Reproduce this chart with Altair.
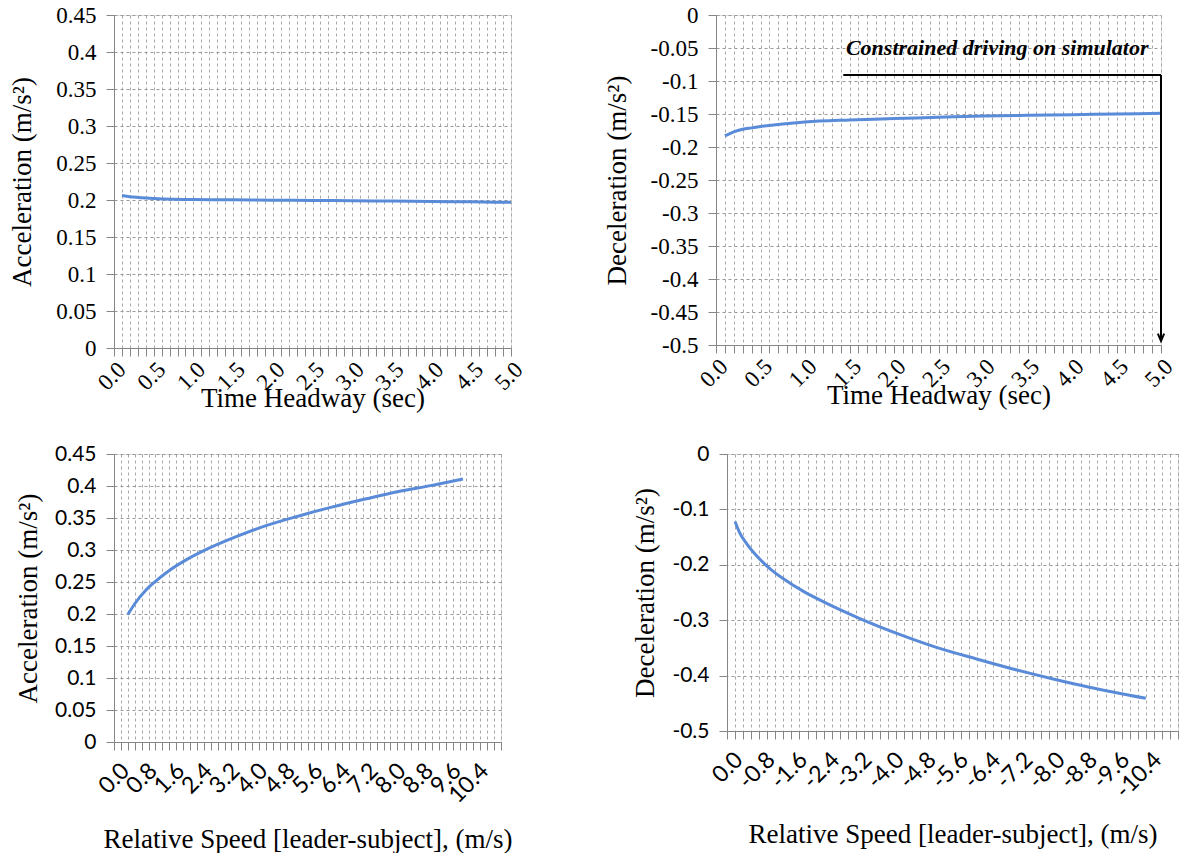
import altair as alt
import pandas as pd

SERIF = "Liberation Serif"
SANS = "Lato"
BLUE = "#5a8bd8"
AXC = "#868686"
GRIDC = "#a8a8a8"

# ---------------- data ----------------
# (a) acceleration vs time headway
th_acc_x = [0.1, 0.2, 0.3, 0.5, 0.75, 1.0, 1.5, 2.0, 2.5, 3.0, 3.5, 4.0, 4.5, 5.0]
th_acc_y = [0.206, 0.2045, 0.2035, 0.202, 0.201, 0.2007, 0.2002, 0.1998, 0.1994, 0.199, 0.1985, 0.198, 0.1975, 0.1968]
# (b) deceleration vs time headway
th_dec_x = [0.1, 0.15, 0.2, 0.3, 0.4, 0.5, 0.75, 1.0, 1.5, 2.0, 2.5, 3.0, 3.5, 4.0, 4.5, 5.0]
th_dec_y = [-0.183, -0.180, -0.177, -0.173, -0.171, -0.169, -0.165, -0.162, -0.159, -0.157, -0.155, -0.153, -0.152, -0.151, -0.150, -0.149]
# (c) acceleration vs relative speed
rs_acc_x = [0.3, 0.5, 0.8, 1.1, 1.5, 2.0, 2.5, 3.4, 4.3, 5.3, 6.2, 7.2, 8.1, 9.1, 10.0]
rs_acc_y = [0.199, 0.216, 0.236, 0.251, 0.268, 0.285, 0.299, 0.320, 0.338, 0.354, 0.367, 0.380, 0.391, 0.401, 0.411]
# (d) deceleration vs relative speed
rs_dec_x = [-0.1, -0.2, -0.4, -0.6, -0.8, -1.0, -1.3, -1.8, -2.3, -3.2, -4.2, -5.1, -6.1, -7.0, -8.0, -8.9, -10.3]
rs_dec_y = [-0.122, -0.140, -0.163, -0.181, -0.196, -0.209, -0.225, -0.248, -0.267, -0.297, -0.326, -0.349, -0.370, -0.388, -0.406, -0.421, -0.441]

# annotation (b)
ann_text = ["Constrained driving on simulator"]
ann_text_x = [4.86]
ann_text_y = [-0.068]
ann_seg_x = [1.43, 5.0]
ann_seg_x2 = [5.0, 5.0]
ann_seg_y = [-0.091, -0.091]
ann_seg_y2 = [-0.091, -0.494]
ann_head_x = [5.0]
ann_head_y = [-0.494]

# axis tick lists
th_ticks = [round(0.1 * i, 1) for i in range(51)]
acc_top_y = [0, 0.05, 0.1, 0.15, 0.2, 0.25, 0.3, 0.35, 0.4, 0.45]
dec_top_y = [0, -0.05, -0.1, -0.15, -0.2, -0.25, -0.3, -0.35, -0.4, -0.45, -0.5]
acc_bot_y = [0, 0.05, 0.1, 0.15, 0.2, 0.25, 0.3, 0.35, 0.4, 0.45]
dec_bot_y = [0, -0.1, -0.2, -0.3, -0.4, -0.5]
rs_grid_pos = [round(-0.1 + 0.2 * i, 1) for i in range(57)]
rs_lab_pos = [round(0.8 * i, 1) for i in range(14)]
rs_grid_neg = [-v for v in rs_grid_pos]
rs_lab_neg = [-v for v in rs_lab_pos]


def yaxis(vals, title, font, fsize, tpad):
    return alt.Axis(values=vals, labelExpr="toString(datum.value)", title=title,
                    labelFont=font, labelFontSize=fsize, labelColor="black",
                    titleFont=SERIF, titleFontSize=27, titleFontWeight="normal",
                    titleColor="black", titlePadding=tpad, grid=True, gridColor="#999999",
                    gridDash=[3, 3], domainColor=AXC, tickColor=AXC, tickSize=8,
                    labelPadding=10, labelOverlap=False, labelBound=False, labelFlush=False)


def th_xaxis():
    return alt.Axis(values=th_ticks,
                    labelExpr="(round(datum.value*10) % 5 == 0) ? format(datum.value, '.1f') : ''",
                    labelAngle=315, labelFont=SERIF, labelFontSize=23, labelColor="black",
                    labelOverlap=False, labelBound=False, labelFlush=False, labelPadding=2,
                    title="Time Headway (sec)", titleFont=SERIF, titleFontSize=27,
                    titleFontWeight="normal", titleColor="black", titlePadding=-9,
                    grid=True, gridColor=GRIDC, gridDash=[3, 3], domainColor=AXC,
                    tickColor=AXC, tickSize=8)


def top_panel(xs, ys, yvals, ydom, ytitle):
    df = pd.DataFrame({"x": xs, "y": ys})
    xs_ = alt.Scale(domain=[0, 5], nice=False, zero=False)
    ys_ = alt.Scale(domain=ydom, nice=False, zero=False)
    xax = th_xaxis()
    yax = yaxis(yvals, ytitle, SERIF, 23, 19)
    line = alt.Chart(df).mark_line(color=BLUE, strokeWidth=3, interpolate="monotone").encode(
        x=alt.X("x:Q", scale=xs_, axis=xax),
        y=alt.Y("y:Q", scale=ys_, axis=yax),
    )
    return line, xs_, ys_, xax, yax


def bottom_panel(xs, ys, yvals, ydom, ytitle, w, h, neg):
    df = pd.DataFrame({"x": xs, "y": ys})
    if neg:
        xdom = [-11.1, 0.1]
        grid_pos = rs_grid_neg
        lab_pos = rs_lab_neg
        lexpr = "datum.value == 0 ? '0.0' : '-' + format(abs(datum.value), '.1f')"
    else:
        xdom = [-0.1, 11.1]
        grid_pos = rs_grid_pos
        lab_pos = rs_lab_pos
        lexpr = "format(datum.value, '.1f')"
    xscale = alt.Scale(domain=xdom, nice=False, zero=False, reverse=neg)
    yscale = alt.Scale(domain=ydom, nice=False, zero=False)
    yax = yaxis(yvals, ytitle, SANS, 21, 12)
    grid_ax = alt.Axis(values=grid_pos, labels=False, title=None, orient="bottom",
                       grid=True, gridColor=GRIDC, gridDash=[3, 3], domainColor=AXC,
                       tickColor=AXC, tickSize=8)
    lab_ax = alt.Axis(values=lab_pos, labelExpr=lexpr, orient="bottom", grid=False,
                      ticks=False, domain=False, labelAngle=315, labelFont=SANS,
                      labelFontSize=23, labelColor="black", labelOverlap=False,
                      labelBound=False, labelFlush=False, labelPadding=17,
                      title="Relative Speed [leader-subject], (m/s)", titleFont=SERIF,
                      titleFontSize=27, titleFontWeight="normal", titleColor="black",
                      titlePadding=19)
    base = alt.Chart(df)
    l1 = base.mark_line(color=BLUE, strokeWidth=3, interpolate="monotone").encode(
        x=alt.X("x:Q", scale=xscale, axis=grid_ax),
        y=alt.Y("y:Q", scale=yscale, axis=yax))
    l2 = base.mark_line(color=BLUE, strokeWidth=3, strokeOpacity=0).encode(
        x=alt.X("x:Q", scale=xscale, axis=lab_ax),
        y=alt.Y("y:Q", scale=yscale, axis=yax))
    return alt.layer(l1, l2).resolve_axis(x="independent").properties(width=w, height=h)


tl_line, _, _, _, _ = top_panel(th_acc_x, th_acc_y, acc_top_y, [0, 0.45], "Acceleration (m/s²)")
tl = tl_line.properties(width=397, height=333)

tr_line, trx, tr_y, trxax, tryax = top_panel(th_dec_x, th_dec_y, dec_top_y, [-0.5, 0],
                                             "Deceleration (m/s²)")
ann_df = pd.DataFrame({"x": ann_text_x, "y": ann_text_y, "t": ann_text})
seg_df = pd.DataFrame({"x": ann_seg_x, "x2": ann_seg_x2, "y": ann_seg_y, "y2": ann_seg_y2})
head_df = pd.DataFrame({"x": ann_head_x, "y": ann_head_y})
tr_text = alt.Chart(ann_df).mark_text(font=SERIF, fontSize=22, fontWeight="bold",
                                      fontStyle="italic", align="right", baseline="bottom",
                                      color="black").encode(
    x=alt.X("x:Q", scale=trx, axis=trxax), y=alt.Y("y:Q", scale=tr_y, axis=tryax), text="t:N")
tr_seg = alt.Chart(seg_df).mark_rule(color="black", strokeWidth=2).encode(
    x=alt.X("x:Q", scale=trx, axis=trxax), x2="x2:Q",
    y=alt.Y("y:Q", scale=tr_y, axis=tryax), y2="y2:Q")
tr_head = alt.Chart(head_df).mark_point(shape="M-0.6,-1.4L0,0L0.6,-1.4", filled=False,
                                        color="black", strokeWidth=2, size=110, opacity=1).encode(
    x=alt.X("x:Q", scale=trx, axis=trxax), y=alt.Y("y:Q", scale=tr_y, axis=tryax))
tr = alt.layer(tr_line, tr_seg, tr_head, tr_text).properties(width=445, height=330)

bl = bottom_panel(rs_acc_x, rs_acc_y, acc_bot_y, [0, 0.45], "Acceleration (m/s²)", 387, 288, False)
br = bottom_panel(rs_dec_x, rs_dec_y, dec_bot_y, [-0.5, 0], "Deceleration (m/s²)", 451, 277, True)

top = alt.hconcat(tl, tr, spacing=74)
bottom = alt.hconcat(bl, br, spacing=118)
chart = alt.vconcat(top, bottom, spacing=29).properties(
    padding={"top": -5, "left": 0, "right": 0, "bottom": 0}).configure_view(
    stroke=AXC, strokeWidth=1).configure(background="white")

chart.save("out.html", embed_options={"renderer": "svg", "actions": False})
